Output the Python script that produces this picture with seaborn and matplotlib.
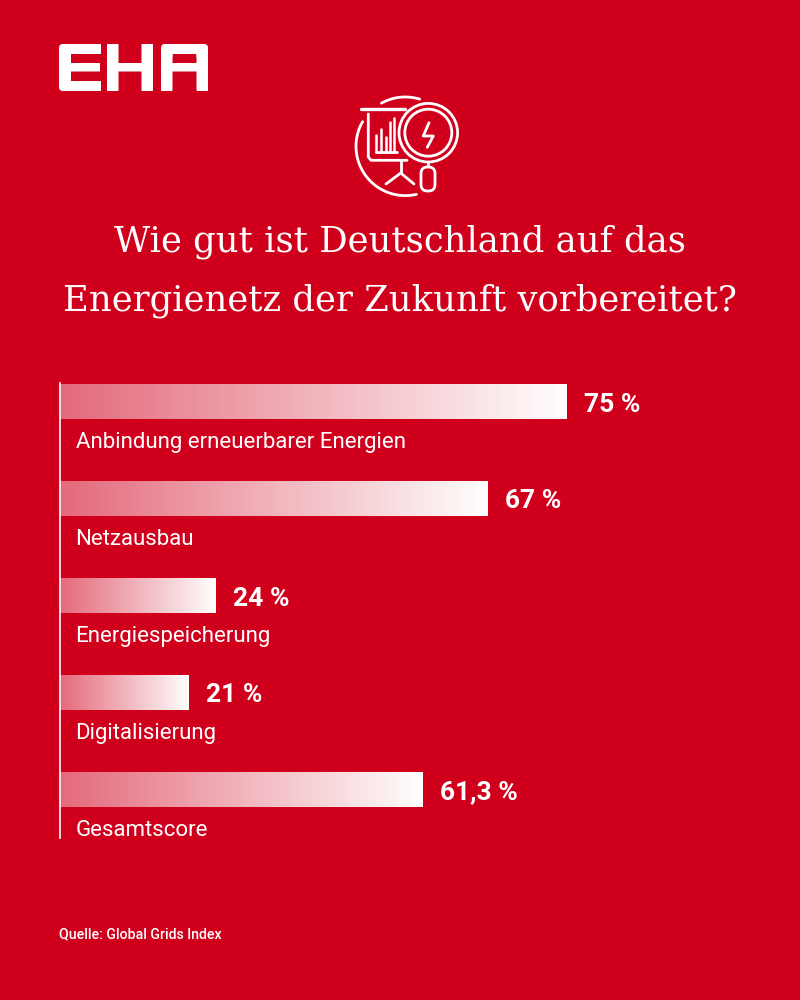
import numpy as np
import pandas as pd
import matplotlib
matplotlib.use('Agg')
import matplotlib.pyplot as plt
from matplotlib.patches import FancyBboxPatch, Circle
import seaborn as sns

# values as printed in the chart
categories = ['Anbindung erneuerbarer Energien', 'Netzausbau', 'Energiespeicherung',
              'Digitalisierung', 'Gesamtscore']
value_labels = ['75 %', '67 %', '24 %', '21 %', '61,3 %']
# the bars in the original are not to scale with the printed numbers,
# so these are the lengths (same unit, 75 = first bar)
bar_lengths = [75, 63.3, 23, 19.1, 53.7]

title_lines = ['Wie gut ist Deutschland auf das', 'Energienetz der Zukunft vorbereitet?']
source = 'Quelle: Global Grids Index'

RED = '#D0001C'

sns.set_theme(style='white')
plt.rcParams['font.family'] = ['Roboto', 'DejaVu Sans']

fig = plt.figure(figsize=(8, 10), dpi=100, facecolor=RED)

# chart area: left edge at x=60, vertical line runs from y=383 to y=838
ax = fig.add_axes([59.5 / 800, 1 - 838 / 1000, 740 / 800, 455 / 1000])
ax.set_facecolor('none')

df = pd.DataFrame({'category': categories, 'length': bar_lengths})
sns.barplot(data=df, x='length', y='category', orient='h', color='white',
            saturation=1, width=35 / 97, linewidth=0, ax=ax)

ax.set_xlabel('')
ax.set_ylabel('')
ax.set_xticks([])
ax.set_yticks([])
for side in ['top', 'right', 'bottom']:
    ax.spines[side].set_visible(False)
ax.spines['left'].set_color('white')
ax.spines['left'].set_linewidth(1.2)

# white fade over each bar
gradient = np.ones((1, 256, 4))
gradient[0, :, 3] = np.linspace(0.42, 1, 256)
for bar in ax.patches:
    x0, y0 = bar.get_x(), bar.get_y()
    w, h = bar.get_width(), bar.get_height()
    bar.set_facecolor('none')
    bar.set_edgecolor('none')
    im = ax.imshow(gradient, extent=[x0, x0 + w, y0 + h, y0], aspect='auto', zorder=3)
    im.set_clip_path(bar)
ax.set_xlim(0, 740 / 6.747)
ax.set_ylim(4.5, -18.5 / 97)

for i, (bar, name, lab) in enumerate(zip(ax.patches, categories, value_labels)):
    ax.annotate(lab, (bar.get_width(), i), xytext=(18, -3), textcoords='offset pixels',
                color='white', fontsize=19, fontweight='bold', va='center', ha='left')
    ax.annotate(name, (0, i), xytext=(16, -41), textcoords='offset pixels',
                color='white', fontsize=16, fontweight='normal', va='center', ha='left')

# page overlay in pixel coordinates for title, logo and icon
page = fig.add_axes([0, 0, 1, 1], zorder=-1)
page.set_xlim(0, 800)
page.set_ylim(1000, 0)
page.axis('off')
page.set_facecolor('none')

serif = ['DejaVu Serif']
page.text(400, 242, title_lines[0], color='white', fontsize=25.5, family=serif,
          ha='center', va='center')
page.text(400, 301, title_lines[1], color='white', fontsize=25.5, family=serif,
          ha='center', va='center')
page.text(59, 934, source, color='white', fontsize=10.2, fontweight='medium',
          ha='left', va='center')


# EHA logo
def block(x0, y0, x1, y1, r=0.8):
    page.add_patch(FancyBboxPatch((x0 + r, y0 + r), x1 - x0 - 2 * r, y1 - y0 - 2 * r,
                                  boxstyle=f'round,pad={r}', fc='white', ec='none'))


# E
block(59, 44, 71, 91, 4)
block(64, 44, 101, 54)
block(64, 63, 100, 71.5)
block(64, 81, 101, 91)
# H
block(107, 44, 118.5, 91)
block(141.5, 44, 153, 91)
block(110, 63, 150, 71.5)
# A
block(161, 44, 172.5, 60, 4)
block(161, 50, 172.5, 91)
block(196.5, 44, 208, 60, 4)
block(196.5, 50, 208, 91)
block(165, 44, 204, 54)
block(165, 63, 204, 71.5)


# icon, thin white outlines
def stroke(xs, ys, lw=2.0):
    page.plot(xs, ys, color='white', lw=lw, solid_capstyle='round', solid_joinstyle='round')


def arc(cx, cy, r, a0, a1):
    t = np.radians(np.linspace(a0, a1, 80))
    stroke(cx + r * np.cos(t), cy + r * np.sin(t))


arc(405.3, 146.3, 49.3, 77, 210)
arc(405.3, 146.3, 49.3, 241, 287)
stroke([360.5, 405], [109.3, 109.3], lw=2.4)
stroke([368.3, 368.3, 371, 407], [114, 157, 160.3, 160.3])
stroke([376, 397], [151.7, 151.7])
for bx, top in zip([376, 380.7, 385.7, 390, 394], [135, 129, 136.7, 122, 118]):
    stroke([bx, bx], [151.7, top], lw=1.8)
stroke([400.7, 400.7], [160.3, 173])
stroke([386, 400.7, 414], [184, 173, 184])
page.add_patch(Circle((428.3, 132.7), 29.3, fc=RED, ec='white', lw=2))
page.add_patch(Circle((428.3, 132.7), 23.5, fc='none', ec='white', lw=2))
stroke([429, 423.3, 433.3, 427.3], [122.7, 136, 136, 147.3])
stroke([428.3, 428.3], [162, 166])
page.add_patch(FancyBboxPatch((421, 167), 14, 24, boxstyle='round,pad=0,rounding_size=6.5',
                              fc='none', ec='white', lw=2))

fig.savefig('out.png', dpi=100, facecolor=RED)
